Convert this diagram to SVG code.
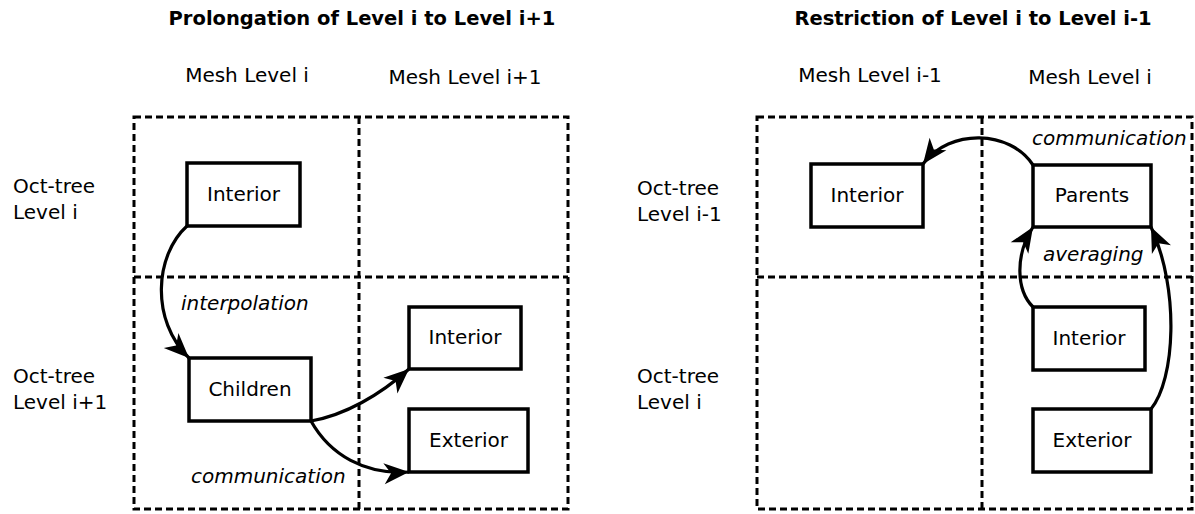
<svg xmlns="http://www.w3.org/2000/svg" width="1195" height="514" viewBox="0 0 1195 514">
<style>
.title{font-family:"DejaVu Sans",sans-serif;font-weight:bold;font-size:19.5px;fill:#000;text-anchor:middle}
.lbl{font-family:"DejaVu Sans",sans-serif;font-size:20px;fill:#000}
.mid{text-anchor:middle}
.it{font-family:"DejaVu Sans",sans-serif;font-style:italic;font-size:20px;fill:#000}
.grid{fill:none;stroke:#000;stroke-width:3;stroke-dasharray:7 4}
.box{fill:#fff;stroke:#000;stroke-width:3.5}
.arr{fill:none;stroke:#000;stroke-width:3.2;marker-end:url(#ah)}
</style>
<defs>
<marker id="ah" markerUnits="userSpaceOnUse" viewBox="-26 -12 28 24" refX="0" refY="0" markerWidth="28" markerHeight="24" orient="auto">
<path d="M0,0 L-25,-10.5 L-18,0 L-25,10.5 Z" fill="#000"/>
</marker>
</defs>
<rect width="1195" height="514" fill="#fff"/>

<g id="titles">
<text class="title" x="362" y="25">Prolongation of Level i to Level i+1</text>
<text class="title" x="973" y="25">Restriction of Level i to Level i-1</text>
</g>

<g id="headers">
<text class="lbl mid" x="247" y="82">Mesh Level i</text>
<text class="lbl mid" x="465" y="84">Mesh Level i+1</text>
<text class="lbl mid" x="870" y="82">Mesh Level i-1</text>
<text class="lbl mid" x="1090" y="84">Mesh Level i</text>
<text class="lbl" x="13" y="193">Oct-tree</text>
<text class="lbl" x="13" y="219">Level i</text>
<text class="lbl" x="13" y="383">Oct-tree</text>
<text class="lbl" x="13" y="409">Level i+1</text>
<text class="lbl" x="637" y="195">Oct-tree</text>
<text class="lbl" x="637" y="221">Level i-1</text>
<text class="lbl" x="637" y="383">Oct-tree</text>
<text class="lbl" x="637" y="409">Level i</text>
</g>

<g id="grids">
<rect class="grid" x="134" y="117" width="434" height="392"/>
<line class="grid" x1="359" y1="117" x2="359" y2="509"/>
<line class="grid" x1="134" y1="277" x2="568" y2="277"/>
<rect class="grid" x="757" y="117" width="435" height="392"/>
<line class="grid" x1="982" y1="117" x2="982" y2="509"/>
<line class="grid" x1="757" y1="277" x2="1192" y2="277"/>
</g>

<g id="connectors">
<path class="arr" d="M187,226 C155,255 150,320 189,358"/>
<path class="arr" d="M311,421 C345,415 380,395 409,369"/>
<path class="arr" d="M311,421 C330,455 365,475 409,472"/>
<path class="arr" d="M1033,165 C1010,130 950,128 923,164"/>
<path class="arr" d="M1033,307 C1016,290 1015,255 1033,227"/>
<path class="arr" d="M1151,409 C1175,380 1180,290 1151,227"/>
<text class="it" x="181" y="310">interpolation</text>
<text class="it" x="191" y="483">communication</text>
<text class="it" x="1032" y="145">communication</text>
<text class="it" x="1043" y="261">averaging</text>
</g>

<g id="l-interior">
<rect class="box" x="187" y="163" width="113" height="63"/>
<text class="lbl mid" x="243.5" y="201">Interior</text>
</g>
<g id="l-children">
<rect class="box" x="189" y="358" width="122" height="63"/>
<text class="lbl mid" x="250" y="396">Children</text>
</g>
<g id="l-interior2">
<rect class="box" x="409" y="307" width="112" height="62"/>
<text class="lbl mid" x="465" y="344">Interior</text>
</g>
<g id="l-exterior">
<rect class="box" x="409" y="409" width="119" height="63"/>
<text class="lbl mid" x="468.5" y="447">Exterior</text>
</g>
<g id="r-interior">
<rect class="box" x="811" y="164" width="112" height="63"/>
<text class="lbl mid" x="867" y="202">Interior</text>
</g>
<g id="r-parents">
<rect class="box" x="1033" y="165" width="118" height="62"/>
<text class="lbl mid" x="1092" y="202">Parents</text>
</g>
<g id="r-interior2">
<rect class="box" x="1033" y="307" width="112" height="63"/>
<text class="lbl mid" x="1089" y="345">Interior</text>
</g>
<g id="r-exterior">
<rect class="box" x="1033" y="409" width="118" height="63"/>
<text class="lbl mid" x="1092" y="447">Exterior</text>
</g>
</svg>
